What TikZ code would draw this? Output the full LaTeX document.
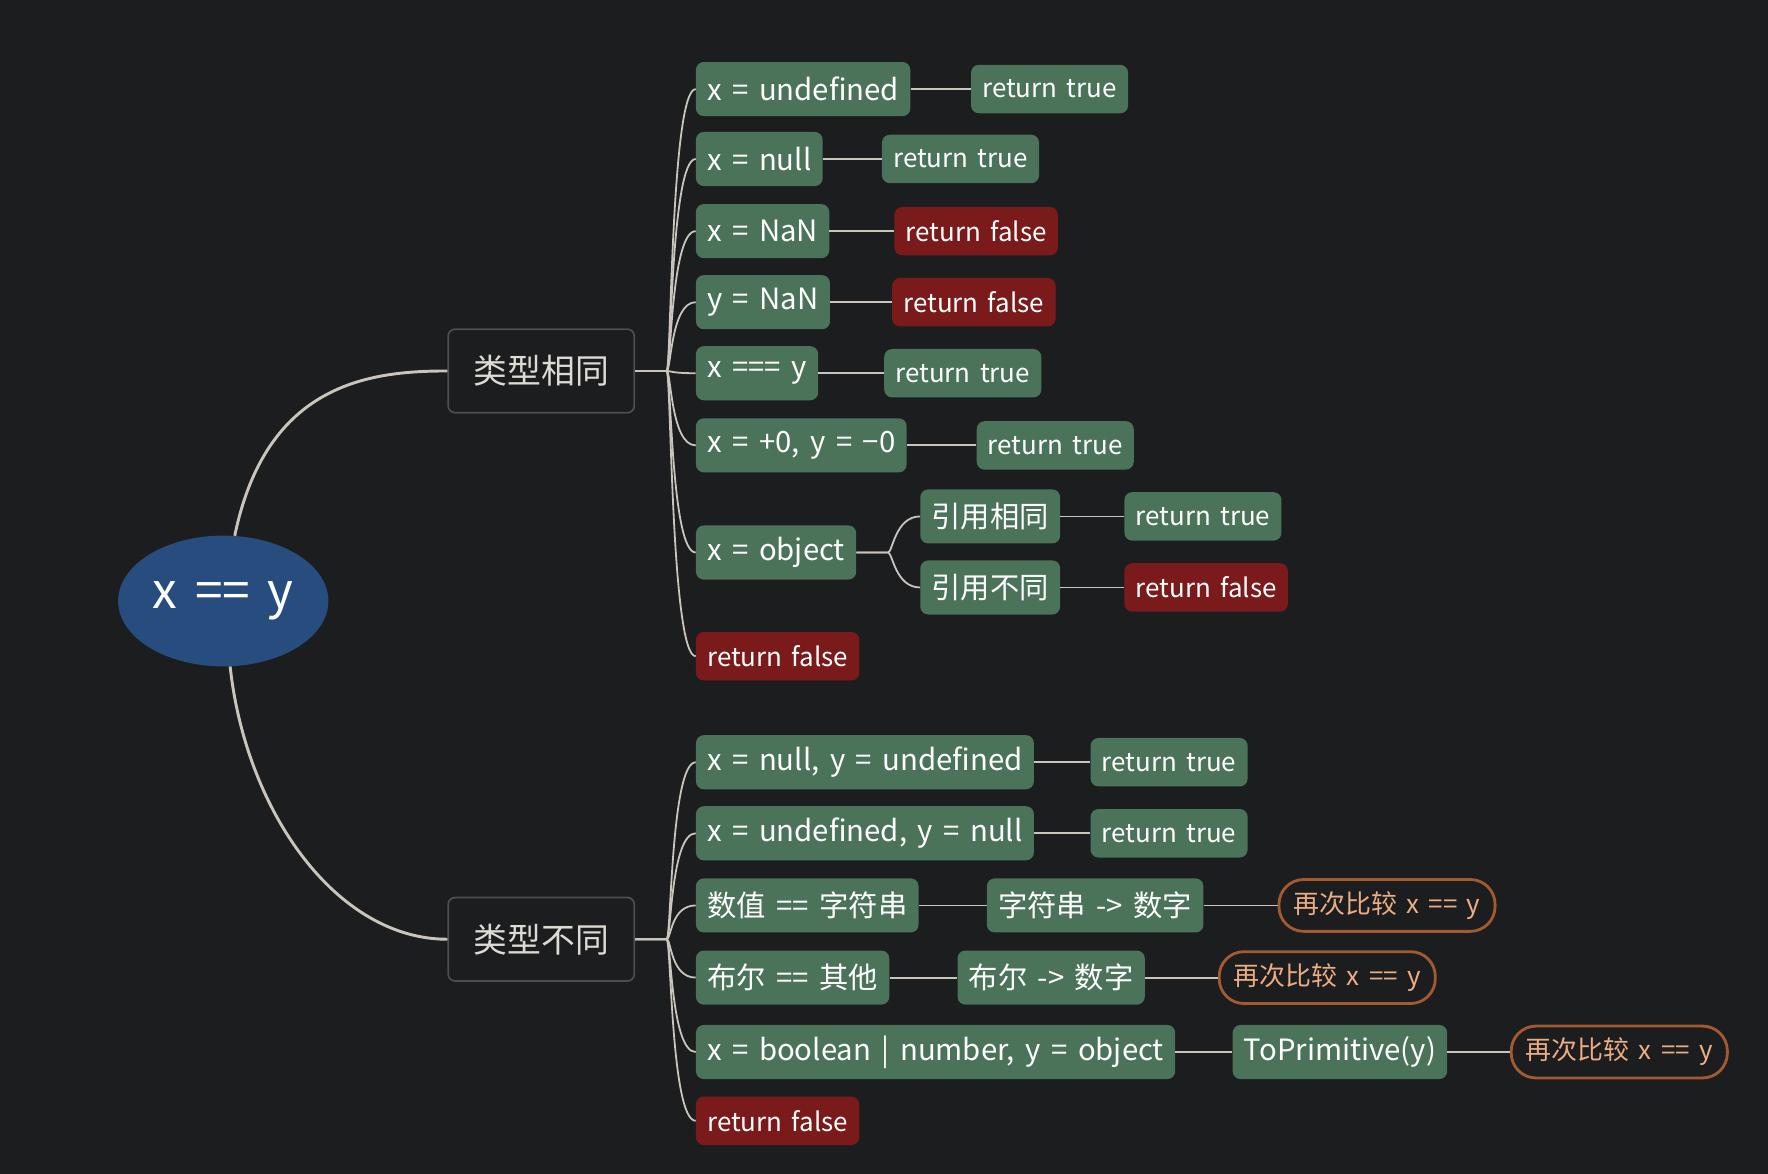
\documentclass[tikz,border=0pt]{standalone}
\usepackage{fontspec}
\setmainfont[WordSpace=1.6]{Noto Sans CJK SC}
\usetikzlibrary{calc,positioning,shapes.geometric}

\begin{document}
\begin{tikzpicture}[x=1pt,y=-1pt,
  line/.style={draw=wire,line width=1.6pt},
  trunk/.style={draw=wire,line width=2.6pt},
  root/.style={ellipse,fill=deep,text=white,minimum width=186pt,minimum height=116pt,font=\fontsize{44}{50}\selectfont},
  topic/.style={draw=frame,line width=1.5pt,fill=bg,rounded corners=6pt,text=pale,minimum width=165pt,minimum height=74pt,font=\fontsize{30}{34}\selectfont},
  cond/.style={fill=leaf,rounded corners=7pt,text=white,anchor=west,minimum height=48pt,inner xsep=10pt,inner ysep=0pt,font=\fontsize{26}{30}\selectfont},
  yes/.style={cond,minimum height=43pt,font=\fontsize{23}{27}\selectfont},
  no/.style={yes,fill=stop},
  again/.style={draw=rust,line width=2.5pt,rounded corners=22pt,text=peach,anchor=west,minimum height=46pt,inner xsep=13pt,font=\fontsize{23}{27}\selectfont},
  kid/.style={to path={-- ++(28,0) .. controls +(4,0) and +(-22,0) .. (\tikztotarget)}}]
  \definecolor{bg}{RGB}{28,29,31}
  \definecolor{wire}{RGB}{201,196,188}
  \definecolor{deep}{RGB}{38,77,126}
  \definecolor{frame}{RGB}{78,78,80}
  \definecolor{pale}{RGB}{222,218,212}
  \definecolor{leaf}{RGB}{74,115,90}
  \definecolor{stop}{RGB}{122,26,26}
  \definecolor{rust}{RGB}{163,90,48}
  \definecolor{peach}{RGB}{236,172,132}
  \fill[bg] (0,0) rectangle (1568,1041);
  % 中心与两个分支
  \node[root] (R) at (198,533) {x == y};
  \node[topic] (S) at (480,329) {类型相同};
  \node[topic] (D) at (480,833) {类型不同};
  \draw[trunk] (R.80) .. controls +(28,-136) and +(-68,0) .. (S.west);
  \draw[trunk] (R.-84) .. controls +(14,129) and +(-98,0) .. (D.west);
  % 类型相同
  \node[cond] (s1) at (617,79) {x = undefined};
  \node[yes] (s1a) at (861,79) {return true};
  \node[cond] (s2) at (617,141) {x = null};
  \node[yes] (s2a) at (782,141) {return true};
  \node[cond] (s3) at (617,205) {x = NaN};
  \node[no] (s3a) at (793,205) {return false};
  \node[cond] (s4) at (617,268) {y = NaN};
  \node[no] (s4a) at (791,268) {return false};
  \node[cond] (s5) at (617,331) {x === y};
  \node[yes] (s5a) at (784,331) {return true};
  \node[cond] (s6) at (617,395) {x = +0, y = −0};
  \node[yes] (s6a) at (866,395) {return true};
  \node[cond] (s7) at (617,490) {x = object};
  \node[cond] (s7a) at (816,458) {引用相同};
  \node[yes] (s7b) at (997,458) {return true};
  \node[cond] (s7c) at (816,521) {引用不同};
  \node[no] (s7d) at (997,521) {return false};
  \node[no] (s8) at (617,582) {return false};
  % 类型不同
  \node[cond] (d1) at (617,676) {x = null, y = undefined};
  \node[yes] (d1a) at (967,676) {return true};
  \node[cond] (d2) at (617,739) {x = undefined, y = null};
  \node[yes] (d2a) at (967,739) {return true};
  \node[cond] (d3) at (617,803) {数值 == 字符串};
  \node[cond] (d3a) at (875,803) {字符串 -> 数字};
  \node[again] (d3b) at (1133,803) {再次比较 x == y};
  \node[cond] (d4) at (617,867) {布尔 == 其他};
  \node[cond] (d4a) at (849,867) {布尔 -> 数字};
  \node[again] (d4b) at (1080,867) {再次比较 x == y};
  \node[cond] (d5) at (617,933) {x = boolean | number, y = object};
  \node[cond] (d5a) at (1093,933) {ToPrimitive(y)};
  \node[again] (d5b) at (1339,933) {再次比较 x == y};
  \node[no] (d6) at (617,994) {return false};
  % 分支连线
  \foreach \k in {s1,s2,s3,s4,s5,s6,s7,s8}
    \draw[line] (S.east) to[kid] (\k.west);
  \foreach \k in {d1,d2,d3,d4,d5,d6}
    \draw[line] (D.east) to[kid] (\k.west);
  \foreach \k in {s7a,s7c}
    \draw[line] (s7.east) to[kid] (\k.west);
  % 结果连线
  \foreach \a/\b in {s1/s1a,s2/s2a,s3/s3a,s4/s4a,s5/s5a,s6/s6a,s7a/s7b,s7c/s7d,
    d1/d1a,d2/d2a,d3/d3a,d3a/d3b,d4/d4a,d4a/d4b,d5/d5a,d5a/d5b}
    \draw[line] (\a.east) -- (\b.west);
\end{tikzpicture}
\end{document}
